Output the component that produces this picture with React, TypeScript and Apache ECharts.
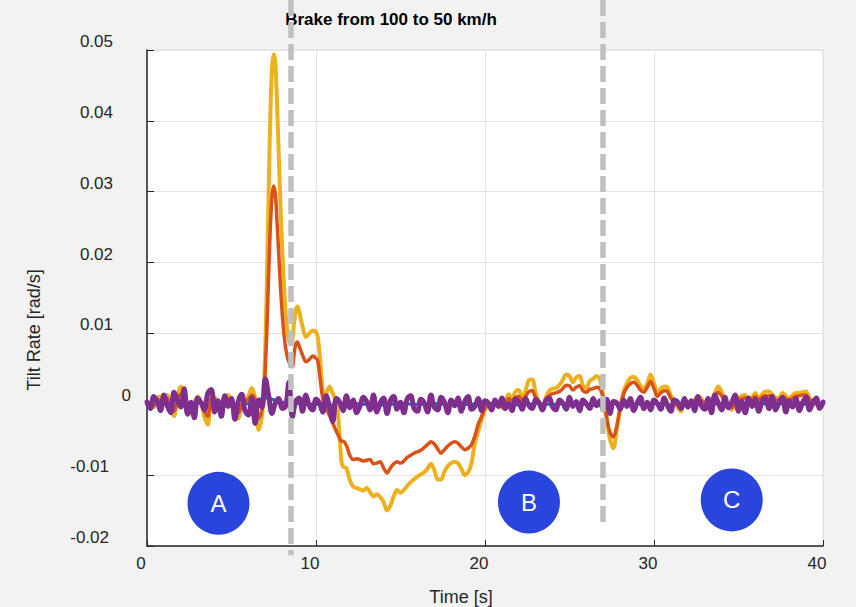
import React, { useEffect, useRef } from "react";
import * as echarts from "echarts";

const TITLE = "Brake from 100 to 50 km/h";
const X_NAME = "Time [s]";
const Y_NAME = "Tilt Rate [rad/s]";
const FONT = "'Liberation Sans', Arial, Helvetica, sans-serif";

// Shared time stamps for the yellow and orange traces (s)
const T_YO = [
  0, 0.2, 0.4, 0.6, 0.8, 1.0, 1.2, 1.4, 1.6, 1.8, 2.0, 2.2, 2.4, 2.6, 2.8, 3.0, 3.2, 3.4, 3.6, 3.8,
  4.0, 4.2, 4.4, 4.6, 4.8, 5.0, 5.2, 5.4, 5.6, 5.8, 6.0, 6.2, 6.4, 6.6, 6.8, 6.9, 7.0, 7.1, 7.2, 7.3,
  7.4, 7.5, 7.6, 7.7, 7.8, 7.9, 8.0, 8.1, 8.2, 8.3, 8.4, 8.5, 8.6, 8.7, 8.8, 8.9, 9.0, 9.2, 9.4, 9.6,
  9.8, 10.0, 10.1, 10.2, 10.3, 10.4, 10.5, 10.6, 10.8, 11.0, 11.2, 11.3, 11.4, 11.5, 11.6, 11.8, 12.0, 12.2, 12.4, 12.6,
  12.8, 13.0, 13.2, 13.4, 13.6, 13.8, 14.0, 14.2, 14.4, 14.6, 14.8, 15.0, 15.2, 15.4, 15.6, 15.8, 16.0, 16.2, 16.4, 16.6,
  16.8, 17.0, 17.2, 17.4, 17.6, 17.8, 18.0, 18.2, 18.4, 18.6, 18.8, 19.0, 19.2, 19.4, 19.6, 19.8, 20.0, 20.2, 20.4, 20.6,
  20.8, 21.0, 21.2, 21.4, 21.6, 21.8, 22.0, 22.2, 22.4, 22.6, 22.8, 23.0, 23.2, 23.4, 23.6, 23.8, 24.0, 24.2, 24.4, 24.6,
  24.8, 25.0, 25.2, 25.4, 25.6, 25.8, 26.0, 26.2, 26.4, 26.6, 26.8, 27.0, 27.2, 27.4, 27.6, 27.8, 28.0, 28.2, 28.4, 28.6,
  28.8, 29.0, 29.2, 29.4, 29.6, 29.8, 30.0, 30.2, 30.4, 30.6, 30.8, 31.0, 31.2, 31.4, 31.6, 31.8, 32.0, 32.2, 32.4, 32.6,
  32.8, 33.0, 33.2, 33.4, 33.6, 33.8, 34.0, 34.2, 34.4, 34.6, 34.8, 35.0, 35.2, 35.4, 35.6, 35.8, 36.0, 36.2, 36.4, 36.6,
  36.8, 37.0, 37.2, 37.4, 37.6, 37.8, 38.0, 38.2, 38.4, 38.6, 38.8, 39.0, 39.2, 39.4, 39.6, 39.8, 40.0,
];

const YELLOW = [
  0.0, 0.0003, -0.0004, 0.0008, 0.0011, 0.0006, 0.0013, -0.0005, -0.0017, 0.0012, 0.0025, 0.0004, -0.0006, -0.0013, 0.0002, 0.0011, 0.0003, -0.0018, -0.0029, 0.0013,
  0.001, 0.0002, -0.0008, 0.0004, 0.0013, 0.0005, -0.0012, -0.002, -0.0002, 0.0006, 0.0012, 0.0023, 0.0008, -0.0036, -0.0017, 0.0015, 0.008, 0.018, 0.03, 0.041,
  0.0475, 0.0494, 0.048, 0.042, 0.035, 0.028, 0.022, 0.017, 0.013, 0.0105, 0.009, 0.0087, 0.009, 0.0115, 0.0132, 0.0138, 0.0132, 0.011, 0.0095, 0.01,
  0.0104, 0.0102, 0.0095, 0.0075, 0.0045, 0.0018, 0.001, 0.0015, 0.0025, 0.0015, 0.0003, -0.0012, -0.0045, -0.008, -0.0088, -0.009, -0.0107, -0.0116, -0.0118, -0.012,
  -0.0122, -0.0118, -0.0124, -0.013, -0.0127, -0.0131, -0.0138, -0.015, -0.0143, -0.013, -0.0121, -0.0125, -0.0121, -0.0115, -0.011, -0.0106, -0.0102, -0.0099, -0.0096, -0.0091,
  -0.0084, -0.0093, -0.0106, -0.0106, -0.0095, -0.0087, -0.0083, -0.0081, -0.0083, -0.0091, -0.01, -0.0096, -0.0083, -0.0055, -0.0038, -0.0022, -0.0008, -0.0003, -0.0002, 0.0002,
  0.0, -0.0005, 0.0002, 0.0014, 0.0008, 0.0018, 0.002, 0.0008, 0.002, 0.0034, 0.0035, 0.0016, 0.0002, -0.0006, 0.001, 0.0019, 0.0022, 0.0023, 0.0027, 0.0034,
  0.0042, 0.004, 0.0031, 0.0038, 0.004, 0.0026, 0.0023, 0.0033, 0.0036, 0.004, 0.0035, 0.0012, -0.0018, -0.005, -0.0062, -0.0036, -0.0005, 0.0018, 0.003, 0.0037,
  0.0039, 0.0034, 0.0026, 0.0022, 0.003, 0.0042, 0.003, 0.0016, 0.0022, 0.0025, 0.0024, 0.0012, 0.0006, -0.0004, -0.001, 0.0006, 0.0003, 0.0002, 0.0006, 0.0011,
  0.0008, 0.0001, -0.0005, 0.0004, 0.0016, 0.0025, 0.0018, 0.0006, -0.0002, -0.0008, 0.0003, 0.0008, 0.0012, 0.0013, 0.0004, 0.001, 0.0016, 0.0008, 0.0014, 0.0018,
  0.0018, 0.0014, 0.0009, 0.0009, 0.0016, 0.0012, 0.0008, 0.0013, 0.0016, 0.0016, 0.0017, 0.0018, 0.0009, 0.0004, 0.0, 0.0001, 0.0,
];

const ORANGE = [
  0.0, 0.0002, -0.0002, 0.0005, 0.0006, 0.0004, 0.0008, -0.0003, -0.001, 0.0007, 0.0014, 0.0002, -0.0004, -0.0008, 0.0001, 0.0006, 0.0002, -0.001, -0.0017, 0.0008,
  0.0006, 0.0001, -0.0005, 0.0002, 0.0008, 0.0003, -0.0007, -0.0012, -0.0001, 0.0004, 0.0007, 0.0013, 0.0005, -0.002, -0.0008, 0.001, 0.005, 0.011, 0.0185, 0.025,
  0.0295, 0.0308, 0.0295, 0.0255, 0.021, 0.0165, 0.0128, 0.01, 0.008, 0.0067, 0.006, 0.0054, 0.0053, 0.007, 0.0085, 0.0088, 0.0082, 0.007, 0.006, 0.0063,
  0.0068, 0.0065, 0.0062, 0.0045, 0.0025, 0.0008, 0.0, -0.0006, -0.0016, -0.0027, -0.0038, -0.0043, -0.0048, -0.0052, -0.0052, -0.0058, -0.0072, -0.0078, -0.0077, -0.0078,
  -0.008, -0.0079, -0.0078, -0.0084, -0.0083, -0.0081, -0.009, -0.0097, -0.009, -0.0084, -0.0081, -0.0083, -0.008, -0.0075, -0.0072, -0.0069, -0.0067, -0.0065, -0.0061, -0.0057,
  -0.0053, -0.0056, -0.0063, -0.0069, -0.0064, -0.0059, -0.0055, -0.0053, -0.0055, -0.006, -0.0064, -0.0062, -0.0057, -0.0045, -0.0028, -0.0017, -0.0005, -0.0002, -0.0001, 0.0001,
  0.0, -0.0003, 0.0001, 0.0008, 0.0005, 0.001, 0.0011, 0.0005, 0.0011, 0.0018, 0.0019, 0.0009, 0.0001, -0.0002, 0.0007, 0.0012, 0.0015, 0.0016, 0.0018, 0.0022,
  0.0027, 0.0026, 0.002, 0.0024, 0.0026, 0.0019, 0.0017, 0.0021, 0.0022, 0.0024, 0.0022, 0.0008, -0.002, -0.004, -0.0046, -0.003, -0.0005, 0.0014, 0.0024, 0.0029,
  0.0031, 0.0027, 0.002, 0.0017, 0.0024, 0.0032, 0.0022, 0.0011, 0.0016, 0.0019, 0.0018, 0.0008, 0.0004, -0.0002, -0.0006, 0.0004, 0.0002, 0.0001, 0.0004, 0.0008,
  0.0005, 0.0001, -0.0003, 0.0003, 0.0011, 0.0017, 0.0012, 0.0004, -0.0001, -0.0005, 0.0002, 0.0005, 0.0008, 0.0009, 0.0003, 0.0007, 0.0011, 0.0006, 0.001, 0.0012,
  0.0012, 0.001, 0.0006, 0.0006, 0.0011, 0.0008, 0.0005, 0.0009, 0.0011, 0.0012, 0.0013, 0.0013, 0.0007, 0.0003, 0.0, 0.0001, 0.0,
];

// Purple trace sampled every 0.2 s from 0 to 40 s
const PURPLE_DT = 0.2;
const PURPLE = [
  0.0003, -0.0006, 0.0011, 0.0004, -0.0009, 0.0013, -0.0002, -0.0012, 0.0017, 0.0006, -0.0004,
  0.0022, -0.0014, 0.0003, -0.0019, 0.0009, 0.0002, -0.0008, 0.0016, 0.0021, -0.0011,
  0.0005, -0.0017, 0.0012, -0.0003, 0.0008, -0.0021, 0.0004, 0.0014, -0.0009, -0.0015,
  0.0009, -0.0027, 0.0006, -0.0004, 0.0036, 0.0012, -0.0013, 0.0002, 0.0008, -0.0006,
  -0.0003, 0.0031, -0.0018, 0.0004, 0.0009, -0.001, 0.0013, -0.0002, -0.0008, 0.0007,
  0.0002, -0.0011, 0.0012, -0.0004, -0.0024, 0.0008, 0.0003, -0.0009, 0.0012, -0.0005,
  0.0006, -0.0012, -0.0003, 0.001, 0.0004, -0.0008, 0.0013, -0.0011, 0.0002, 0.0009,
  -0.0013, 0.0005, 0.0011, -0.0007, 0.0003, -0.0012, 0.0008, 0.0012, -0.0006, -0.001,
  0.0007, 0.0002, -0.0011, 0.0013, -0.0004, -0.0008, 0.001, 0.0003, -0.0012, 0.0006,
  -0.0002, 0.0009, -0.001, 0.0004, 0.0011, -0.0007, -0.0003, 0.0008, -0.0009, 0.0005,
  0.0002, -0.0008, 0.0006, -0.0003, 0.0009, -0.0006, 0.0001, -0.0009, 0.0007, 0.0003,
  -0.0007, 0.0008, -0.0002, -0.0006, 0.0007, 0.0002, -0.0008, 0.0005, 0.0009, -0.0004,
  -0.0008, 0.0006, 0.0002, -0.0007, 0.001, -0.0003, 0.0004, -0.0009, 0.0006, 0.0001,
  -0.0006, 0.0008, -0.0002, 0.0005, -0.0008, 0.0007, -0.0013, 0.0004, 0.0002, -0.0007,
  0.0006, -0.0003, 0.0008, -0.0009, 0.0002, 0.001, -0.0006, 0.0003, -0.0008, 0.0006,
  0.0001, -0.0007, 0.0009, -0.0002, -0.001, 0.0006, 0.0003, -0.0006, 0.0008, -0.0004,
  0.0005, -0.0009, 0.0011, -0.0002, -0.0007, 0.0008, -0.0012, 0.0013, 0.0002, -0.0008,
  0.001, -0.0005, 0.0003, 0.0013, -0.001, 0.0004, -0.0012, 0.0009, -0.0003, 0.0007,
  -0.001, 0.0004, 0.0009, -0.0006, 0.0011, -0.0008, 0.0003, 0.001, -0.0011, 0.0005,
  -0.0004, 0.0008, -0.0009, 0.0003, 0.001, -0.0008, 0.0002, 0.0009, -0.0006, 0.0003,
];

// Blue trace (mostly hidden beneath purple), sampled every 1 s
const BLUE_DT = 1;
const BLUE = [
  0.0, 0.0001, -0.0001, 0.0002, 0.0, -0.0002, 0.0001, 0.0009, 0.0003, 0.0001, 0.0, -0.0001, 0.0001, 0.0, -0.0001, 0.0001,
  0.0, 0.0001, -0.0001, 0.0, 0.0001, 0.0, -0.0001, 0.0001, 0.0, 0.0001, 0.0, -0.0002, 0.0001, 0.0, 0.0001, -0.0001,
  0.0, 0.0001, 0.0, -0.0001, 0.0001, 0.0, 0.0001, 0.0, 0.0,
];

const MARKERS = [
  { name: "A", t: 4.23, v: -0.01398 },
  { name: "B", t: 22.6, v: -0.0138 },
  { name: "C", t: 34.6, v: -0.0135 },
];

const PHASE_LINES = [8.52, 26.98];
const PHASE_LINE_ENDS = [-0.0213, -0.0166];

const X_MIN = 0, X_MAX = 40, X_STEP = 10;
const Y_MIN = -0.02, Y_MAX = 0.05, Y_STEP = 0.01;

const fmtY = (v: number) => {
  if (Math.abs(v) < 1e-9) return "";
  return String(+v.toFixed(2));
};

export default function App() {
  const ref = useRef<HTMLDivElement>(null);
  useEffect(() => {
    if (!ref.current) return;
    const chart = echarts.init(ref.current, undefined, { renderer: "svg" });
    const yo = (arr: number[]) => T_YO.map((t, i) => [t, arr[i]]);
    const purple = PURPLE.map((v, i) => [+(i * PURPLE_DT).toFixed(1), v]);
    const blue = BLUE.map((v, i) => [i * BLUE_DT, v]);
    const tickText = { color: "#262626", fontSize: 17, fontFamily: FONT };
    chart.setOption({
      animation: false,
      backgroundColor: "#f2f2f2",
      title: {
        text: TITLE,
        left: 386,
        top: 6,
        textAlign: "center",
        textStyle: { fontSize: 17, fontWeight: "bold", color: "#000", fontFamily: FONT },
      },
      grid: {
        left: 147,
        right: 33,
        top: 50,
        bottom: 61,
        show: true,
        backgroundColor: "#ffffff",
        borderColor: "#dcdcdc",
        borderWidth: 1,
      },
      xAxis: {
        type: "value",
        min: X_MIN,
        max: X_MAX,
        interval: X_STEP,
        axisLine: { show: true, onZero: false, lineStyle: { color: "#262626", width: 1.5 } },
        axisTick: { show: true, inside: true, length: 6, lineStyle: { color: "#262626" } },
        axisLabel: { ...tickText, margin: 9, padding: [0, 12, 0, 0] },
        splitLine: { show: true, lineStyle: { color: "#e3e3e3", width: 1 } },
      },
      yAxis: [
        {
          type: "value",
          min: Y_MIN,
          max: Y_MAX,
          interval: Y_STEP,
          axisLine: { show: true, onZero: false, lineStyle: { color: "#262626", width: 1.5 } },
          axisTick: { show: true, inside: true, length: 7, lineStyle: { color: "#262626" } },
          axisLabel: {
            ...tickText,
            margin: 34,
            verticalAlign: "bottom",
            formatter: (v: number) => (v < -1e-9 ? `{n|${fmtY(v)}}` : fmtY(v)),
            rich: { n: { ...tickText, padding: [0, 4, 0, 0] } },
          },
          splitLine: { show: true, lineStyle: { color: "#e3e3e3", width: 1 } },
        },
        {
          type: "value",
          position: "left",
          min: Y_MIN,
          max: Y_MAX,
          interval: Y_STEP,
          axisLine: { show: false },
          axisTick: { show: false },
          splitLine: { show: false },
          axisLabel: {
            ...tickText,
            margin: 16,
            verticalAlign: "bottom",
            formatter: (v: number) => (Math.abs(v) < 1e-9 ? "0" : ""),
          },
        },
      ],
      series: [
        {
          type: "line",
          name: "blue",
          data: blue,
          showSymbol: false,
          smooth: 0.3,
          lineStyle: { color: "#0072BD", width: 3 },
          z: 2,
        },
        {
          type: "line",
          name: "yellow",
          data: yo(YELLOW),
          showSymbol: false,
          smooth: 0.3,
          lineStyle: { color: "#EDB120", width: 4, cap: "round", join: "round" },
          z: 3,
        },
        {
          type: "line",
          name: "orange",
          data: yo(ORANGE),
          showSymbol: false,
          smooth: 0.3,
          lineStyle: { color: "#D95319", width: 3.5, cap: "round", join: "round" },
          z: 4,
        },
        {
          type: "line",
          name: "purple",
          data: purple,
          showSymbol: false,
          smooth: 0.4,
          lineStyle: { color: "#7E2F8E", width: 5, cap: "round", join: "round" },
          z: 5,
        },
        {
          type: "scatter",
          name: "phases",
          data: MARKERS.map((m) => ({ name: m.name, value: [m.t, m.v] })),
          symbol: "circle",
          symbolSize: [62, 63],
          itemStyle: { color: "#2a45dc", opacity: 1 },
          label: {
            show: true,
            position: "inside",
            formatter: "{b}",
            color: "#ffffff",
            fontSize: 24,
            fontFamily: FONT,
          },
          z: 6,
        },
      ],
    });

    const lines = PHASE_LINES.map((t, i) => {
      const x = chart.convertToPixel({ xAxisIndex: 0 }, t) as number;
      const yEnd = chart.convertToPixel({ yAxisIndex: 0 }, PHASE_LINE_ENDS[i]) as number;
      return {
        type: "line",
        z: 100,
        shape: { x1: x, y1: 0, x2: x, y2: yEnd },
        style: { stroke: "#c0c0c0", lineWidth: 5.5, lineDash: [16, 6] },
      };
    });
    chart.setOption({
      graphic: [
        ...lines,
        {
          type: "text",
          z: 50,
          x: 461,
          y: 597,
          style: {
            text: X_NAME,
            fill: "#262626",
            font: `18px ${FONT}`,
            align: "center",
            verticalAlign: "middle",
          },
        },
        {
          type: "text",
          z: 50,
          x: 34,
          y: 330,
          rotation: Math.PI / 2,
          style: {
            text: Y_NAME,
            fill: "#262626",
            font: `18px ${FONT}`,
            align: "center",
            verticalAlign: "middle",
          },
        },
      ],
    });
    return () => chart.dispose();
  }, []);
  return (
    <div
      ref={ref}
      style={{ position: "fixed", left: 0, top: 0, width: 856, height: 607 }}
    />
  );
}
